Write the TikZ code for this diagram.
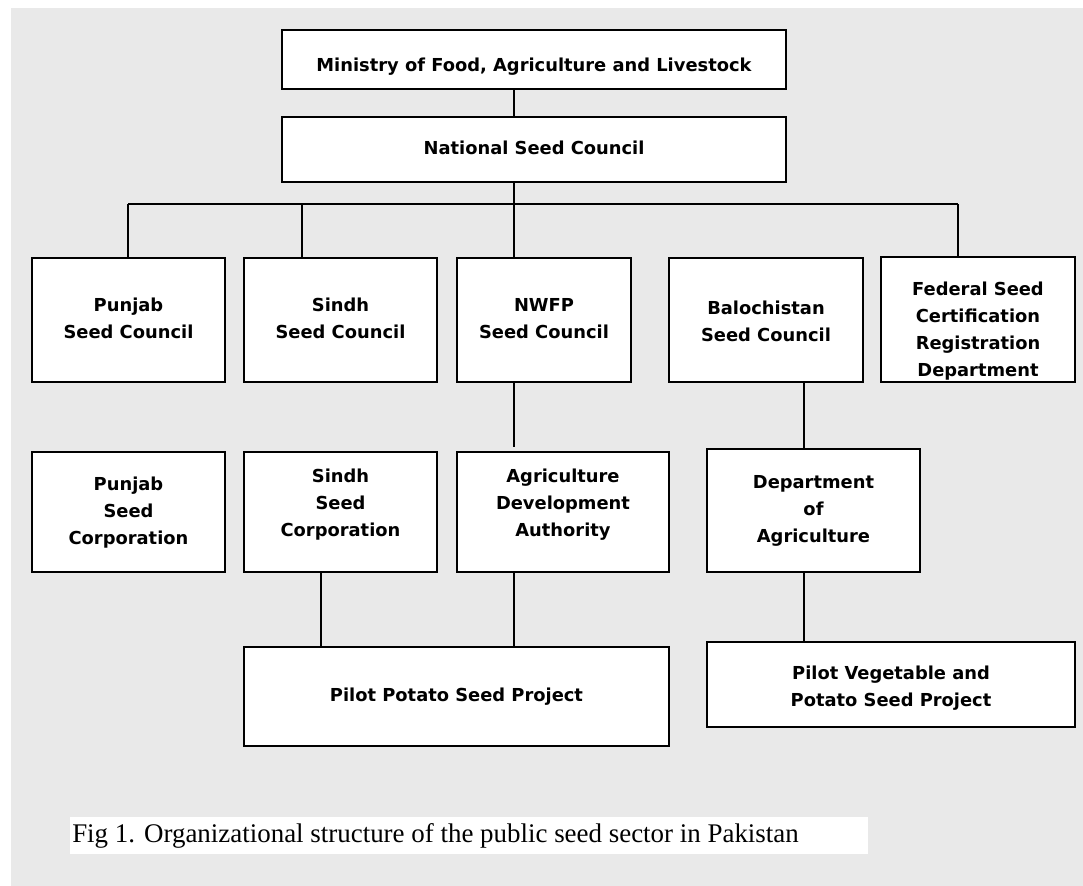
\documentclass[tikz,border=0pt]{standalone}
\usepackage{fontspec}
\setmainfont{DejaVu Sans}
\newfontfamily\capfont{Liberation Serif}
\definecolor{bggray}{RGB}{233,233,233}
\newcommand\bx[7][0]{\node[box, minimum width={(#5-#3)*0.75pt}, minimum height={(#6-#4)*0.75pt}] (#2) at ({(#3+#5)/2},{(#4+#6)/2}) {\raisebox{#1pt}[\height][\depth]{\begin{tabular}{@{}c@{}}#7\end{tabular}}};}
\begin{document}
\begin{tikzpicture}[x=0.75pt,y=-0.75pt,
  box/.style={draw, line width=1.2pt, fill=white, inner sep=0pt, outer sep=0pt,
    font=\bfseries\fontsize{13.4}{20.25}\selectfont},
  conn/.style={line width=1.1pt}]
\useasboundingbox (0,0) rectangle (1083,886);
\fill[white] (0,0) rectangle (1083,886);
\fill[bggray] (11,8) rectangle (1083,886);
% boxes
\bx[-5]{min}{282}{30}{786}{89}{Ministry of Food, Agriculture and Livestock}
\bx{nat}{282}{117}{786}{182}{National Seed Council}
\bx{psc}{32}{258}{225}{382}{Punjab\\Seed Council}
\bx{ssc}{244}{258}{437}{382}{Sindh\\Seed Council}
\bx{nsc}{457}{258}{631}{382}{NWFP\\Seed Council}
\bx[-2]{bsc}{669}{258}{863}{382}{Balochistan\\Seed Council}
\bx[-8]{fsc}{881}{257}{1075}{382}{Federal Seed\\Certification\\Registration\\Department}
\bx{pcorp}{32}{452}{225}{572}{Punjab\\Seed\\Corporation}
\bx[6]{scorp}{244}{452}{437}{572}{Sindh\\Seed\\Corporation}
\bx[6]{ada}{457}{452}{669}{572}{Agriculture\\Development\\Authority}
\bx{doa}{707}{449}{920}{572}{Department\\of\\Agriculture}
\bx{ppsp}{244}{647}{669}{746}{Pilot Potato Seed Project}
\bx[-2]{pvpsp}{707}{642}{1075}{727}{Pilot Vegetable and\\Potato Seed Project}
% connector guide coordinates
\coordinate (c128) at (128,204);
\coordinate (c302) at (302,204);
\coordinate (c514) at (514,204);
\coordinate (c958) at (958,204);
\coordinate (c321) at (321,0);
\coordinate (c804) at (804,0);
% connectors
\draw[conn] (min.south -| c514) -- (nat.north -| c514);
\draw[conn] (nat.south -| c514) -- (c514);
\draw[conn] (c128) -- (c958);
\draw[conn] (c128) -- (psc.north -| c128);
\draw[conn] (c302) -- (ssc.north -| c302);
\draw[conn] (c514) -- (nsc.north -| c514);
\draw[conn] (c958) -- (fsc.north -| c958);
\draw[conn] (nsc.south -| c514) -- ([yshift=3.75pt]ada.north -| c514);
\draw[conn] (bsc.south -| c804) -- (doa.north -| c804);
\draw[conn] (scorp.south -| c321) -- (ppsp.north -| c321);
\draw[conn] (ada.south -| c514) -- (ppsp.north -| c514);
\draw[conn] (doa.south -| c804) -- (pvpsp.north -| c804);
% caption
\fill[white] (70,817) rectangle (868,854);
\node[anchor=base west, inner sep=0pt, font=\capfont\fontsize{20.2}{23}\selectfont] (cap) at (72,842) {Fig 1. Organizational structure of the public seed sector in Pakistan};
\end{tikzpicture}
\end{document}
